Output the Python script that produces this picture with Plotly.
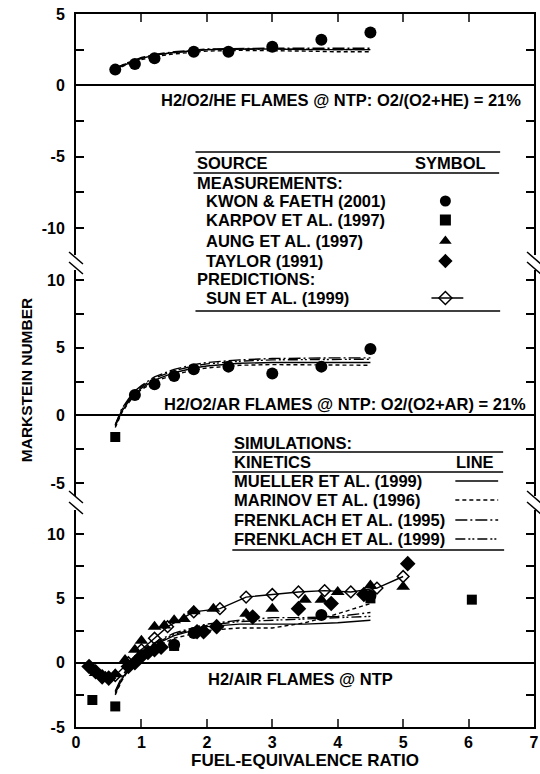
import plotly.graph_objects as go

# ---------------- DATA ----------------
# Top panel: H2/O2/He flames
he_kwon_x = [0.6, 0.9, 1.2, 1.8, 2.33, 3.0, 3.75, 4.5]
he_kwon_y = [1.1, 1.5, 1.9, 2.35, 2.35, 2.7, 3.2, 3.7]
he_sim_x = [0.6, 0.8, 1.0, 1.25, 1.5, 2.0, 2.5, 3.0, 3.5, 4.0, 4.5]
he_mueller = [1.15, 1.55, 1.9, 2.15, 2.3, 2.5, 2.55, 2.55, 2.5, 2.5, 2.5]
he_marinov = [1.1, 1.5, 1.8, 2.05, 2.2, 2.4, 2.45, 2.45, 2.4, 2.35, 2.35]
he_frenk95 = [1.2, 1.6, 1.95, 2.2, 2.35, 2.55, 2.6, 2.6, 2.6, 2.6, 2.6]
he_frenk99 = [1.2, 1.6, 1.9, 2.15, 2.3, 2.5, 2.55, 2.55, 2.55, 2.5, 2.5]

# Middle panel: H2/O2/Ar flames
ar_kwon_x = [0.9, 1.2, 1.5, 1.8, 2.33, 3.0, 3.75, 4.5]
ar_kwon_y = [1.5, 2.3, 2.9, 3.4, 3.6, 3.1, 3.6, 4.9]
ar_karpov_x = [0.6]
ar_karpov_y = [-1.6]
ar_sim_x = [0.6, 0.7, 0.8, 0.9, 1.0, 1.2, 1.5, 1.8, 2.0, 2.5, 3.0, 3.5, 4.0, 4.5]
ar_mueller = [-0.8, 0.3, 1.0, 1.6, 2.0, 2.6, 3.15, 3.5, 3.65, 3.85, 3.9, 3.9, 3.9, 3.9]
ar_marinov = [-0.9, 0.2, 0.9, 1.5, 1.9, 2.5, 3.0, 3.35, 3.5, 3.7, 3.75, 3.75, 3.75, 3.7]
ar_frenk95 = [-0.7, 0.5, 1.2, 1.8, 2.2, 2.85, 3.4, 3.75, 3.9, 4.1, 4.2, 4.25, 4.25, 4.25]
ar_frenk99 = [-0.7, 0.4, 1.1, 1.7, 2.1, 2.75, 3.3, 3.65, 3.8, 4.0, 4.1, 4.1, 4.1, 4.15]

# Bottom panel: H2/air flames
air_kwon_x = [1.5, 1.8, 3.75, 4.5]
air_kwon_y = [1.4, 2.3, 3.7, 5.2]
air_karpov_x = [0.25, 0.6, 1.5, 4.5, 6.05]
air_karpov_y = [-2.9, -3.4, 1.3, 5.0, 4.9]
air_aung_x = [0.3, 0.45, 0.6, 0.75, 0.9, 1.0, 1.2, 1.35, 1.5, 1.65, 1.8, 2.1, 2.6, 3.0, 3.5, 3.75, 4.0, 4.5, 5.0]
air_aung_y = [-0.8, -1.1, -0.9, 0.2, 1.0, 1.7, 2.8, 2.9, 3.3, 3.4, 4.0, 4.2, 3.8, 4.2, 4.9, 4.9, 5.5, 6.0, 5.9]
air_taylor_x = [0.2, 0.3, 0.4, 0.5, 0.8, 0.9, 1.0, 1.1, 1.2, 1.3, 1.85, 1.95, 2.15, 2.7, 3.4, 3.9, 4.4, 5.07]
air_taylor_y = [-0.3, -0.7, -1.1, -1.2, -0.3, 0.0, 0.5, 0.8, 1.0, 1.2, 2.4, 2.4, 2.8, 3.55, 4.2, 4.6, 5.3, 7.7]
air_sun_x = [0.6, 0.8, 1.0, 1.2, 1.4, 1.8, 2.2, 2.6, 3.0, 3.4, 3.8, 4.2, 4.6, 5.0]
air_sun_y = [-1.0, 0.0, 1.0, 1.9, 2.8, 3.95, 4.2, 5.1, 5.3, 5.5, 5.6, 5.5, 5.8, 6.7]
air_sim_x = [0.6, 0.7, 0.8, 0.9, 1.0, 1.25, 1.5, 2.0, 2.5, 3.0, 3.5, 4.0, 4.5]
air_mueller = [-2.4, -1.3, -0.5, 0.1, 0.6, 1.5, 2.1, 2.8, 3.0, 3.0, 3.0, 3.1, 3.3]
air_marinov = [-2.5, -1.4, -0.6, 0.0, 0.5, 1.3, 1.9, 2.5, 2.7, 2.7, 3.1, 3.8, 4.6]
air_frenk95 = [-2.2, -1.1, -0.3, 0.3, 0.8, 1.7, 2.3, 3.0, 3.3, 3.5, 3.5, 3.6, 3.9]
air_frenk99 = [-2.3, -1.2, -0.4, 0.2, 0.7, 1.6, 2.2, 2.9, 3.2, 3.3, 3.4, 3.5, 3.6]

sim_names = ["MUELLER ET AL. (1999)", "MARINOV ET AL. (1996)",
             "FRENKLACH ET AL. (1995)", "FRENKLACH ET AL. (1999)"]
meas_names = ["KWON & FAETH (2001)", "KARPOV ET AL. (1997)",
              "AUNG ET AL. (1997)", "TAYLOR (1991)"]
pred_names = ["SUN ET AL. (1999)"]
panel_titles = ["H2/O2/HE FLAMES @ NTP: O2/(O2+HE) = 21%",
                "H2/O2/AR FLAMES @ NTP: O2/(O2+AR) = 21%",
                "H2/AIR FLAMES @ NTP"]

# ---------------- STYLE / LAYOUT ----------------
W, H = 540, 774
L, R, T, B = 76, 536, 14, 727          # plot area in pixels
FONT = "Liberation Sans, Arial, sans-serif"
dashes = ["solid", "4px,3px", "12px,3px,2px,3px", "10px,3px,2px,2px,2px,3px"]
TXT = 16.5
LW = 1.4


def px(x):
    return (x - L) / (R - L)


def py(y):
    return (B - y) / (B - T)


fig = go.Figure()

def add_sims(xs, ys_list, xa, ya):
    for ys, d in zip(ys_list, dashes):
        fig.add_trace(go.Scatter(x=xs, y=ys, mode="lines", xaxis=xa, yaxis=ya,
                                 line=dict(color="black", width=LW, dash=d),
                                 showlegend=False, hoverinfo="skip"))

def add_pts(xs, ys, sym, xa, ya, size=11):
    fig.add_trace(go.Scatter(x=xs, y=ys, mode="markers", xaxis=xa, yaxis=ya,
                             marker=dict(symbol=sym, size=size, color="black",
                                         line=dict(width=0)),
                             showlegend=False, hoverinfo="skip"))

# top
add_sims(he_sim_x, [he_mueller, he_marinov, he_frenk95, he_frenk99], "x", "y")
add_pts(he_kwon_x, he_kwon_y, "circle", "x", "y", 12)
# middle
add_sims(ar_sim_x, [ar_mueller, ar_marinov, ar_frenk95, ar_frenk99], "x2", "y2")
add_pts(ar_kwon_x, ar_kwon_y, "circle", "x2", "y2", 12)
add_pts(ar_karpov_x, ar_karpov_y, "square", "x2", "y2", 10)
# bottom
add_sims(air_sim_x, [air_mueller, air_marinov, air_frenk95, air_frenk99], "x3", "y3")
fig.add_trace(go.Scatter(x=air_sun_x, y=air_sun_y, mode="lines+markers",
                         xaxis="x3", yaxis="y3",
                         line=dict(color="black", width=LW),
                         marker=dict(symbol="diamond-open", size=9, color="black",
                                     line=dict(width=1.5)),
                         showlegend=False, hoverinfo="skip"))
add_pts(air_taylor_x, air_taylor_y, "diamond", "x3", "y3", 12)
add_pts(air_aung_x, air_aung_y, "triangle-up", "x3", "y3", 12)
add_pts(air_kwon_x, air_kwon_y, "circle", "x3", "y3", 12)
add_pts(air_karpov_x, air_karpov_y, "square", "x3", "y3", 10)

# ---- key symbols on a pixel-space axis pair covering the plot area ----
key_x = 447
key_sym = ["circle", "square", "triangle-up", "diamond"]
key_y = [201, 220, 241, 261]
for s, yk in zip(key_sym, key_y):
    fig.add_trace(go.Scatter(x=[key_x], y=[yk], mode="markers", xaxis="x4", yaxis="y4",
                             marker=dict(symbol=s, size=11, color="black"),
                             showlegend=False, hoverinfo="skip"))
fig.add_trace(go.Scatter(x=[433, 447, 465], y=[298, 298, 298], mode="lines",
                         xaxis="x4", yaxis="y4", line=dict(color="black", width=LW),
                         showlegend=False, hoverinfo="skip"))
fig.add_trace(go.Scatter(x=[key_x], y=[298], mode="markers", xaxis="x4", yaxis="y4",
                         marker=dict(symbol="diamond-open", size=10, color="black",
                                     line=dict(width=1.5)),
                         showlegend=False, hoverinfo="skip"))
sim_key_y = [481, 500, 520, 539]
for d, yk in zip(dashes, sim_key_y):
    fig.add_trace(go.Scatter(x=[457, 500], y=[yk, yk], mode="lines", xaxis="x4", yaxis="y4",
                             line=dict(color="black", width=LW, dash=d),
                             showlegend=False, hoverinfo="skip"))

# ---- axes ----
yax = dict(showline=True, linewidth=2, linecolor="black", mirror="ticks",
           ticks="inside", ticklen=8, tickwidth=1.5, tickcolor="black",
           showgrid=False, zeroline=True, zerolinewidth=2, zerolinecolor="black",
           ticklabelstandoff=6,
           tickfont=dict(family=FONT, size=16, color="black"))

def ticks(lo, hi):
    vals, txt_ = [], []
    v = lo
    while v <= hi + 1e-9:
        vals.append(v)
        txt_.append("<b>%d</b>" % v if abs(v % 5) < 1e-9 else "")
        v += 2.5
    return vals, txt_

tv1, tt1 = ticks(-10, 5)
tv2, tt2 = ticks(-5, 10)
tv3, tt3 = ticks(-5, 10)

xrange_ = [0, 7]
fig.update_layout(
    width=W, height=H,
    margin=dict(l=L, r=W - R, t=T, b=H - B),
    paper_bgcolor="white", plot_bgcolor="rgba(0,0,0,0)",
    showlegend=False,
    xaxis=dict(range=xrange_, domain=[0, 1], anchor="y", side="top",
               showline=True, linewidth=2, linecolor="black",
               ticks="inside", ticklen=8, tickwidth=1.5, tickvals=[1, 2, 3, 4, 5, 6],
               showticklabels=False, showgrid=False, zeroline=False),
    xaxis2=dict(range=xrange_, domain=[0, 1], anchor="y2", visible=False),
    xaxis3=dict(range=xrange_, domain=[0, 1], anchor="y3", side="bottom",
                showline=True, linewidth=2, linecolor="black",
                ticks="inside", ticklen=8, tickwidth=1.5,
                tickvals=[0, 1, 2, 3, 4, 5, 6, 7],
                ticktext=["<b>%d</b>" % v for v in range(8)],
                tickfont=dict(family=FONT, size=16, color="black"),
                showgrid=False, zeroline=False, automargin=False,
                title=dict(text="<b>FUEL-EQUIVALENCE RATIO</b>",
                           font=dict(family=FONT, size=17, color="black"), standoff=0)),
    xaxis4=dict(range=[L, R], domain=[0, 1], anchor="y4", visible=False),
    yaxis=dict(yax, range=[-11.9, 5], domain=[py(255), 1], anchor="x",
               tickvals=tv1, ticktext=tt1),
    yaxis2=dict(yax, range=[-5.96, 10.74], domain=[py(496), py(270)], anchor="x2",
                tickvals=tv2, ticktext=tt2),
    yaxis3=dict(yax, range=[-5, 11.87], domain=[0, py(510)], anchor="x3",
                tickvals=tv3, ticktext=tt3),
    yaxis4=dict(range=[B, T], domain=[0, 1], anchor="x4", visible=False),
)

# ---- break marks ----
shapes = []
for xb in (L, R):
    for yb in (258, 268, 497, 508):
        shapes.append(dict(type="line", xref="paper", yref="paper",
                           x0=px(xb - 7), y0=py(yb - 6), x1=px(xb + 7), y1=py(yb + 6),
                           line=dict(color="black", width=1.5)))
# legend rules
for y0, xa, xb in [(152, 196, 502), (173, 194, 501), (311, 196, 502),
                   (452, 233, 505), (472, 233, 505), (550, 233, 506)]:
    shapes.append(dict(type="line", xref="paper", yref="paper",
                       x0=px(xa), x1=px(xb), y0=py(y0), y1=py(y0),
                       line=dict(color="black", width=1.5)))
fig.update_layout(shapes=shapes)

# ---- text ----
ann = []
def txt(s, x, y, anchor="left", size=TXT, angle=0):
    ann.append(dict(text="<b>%s</b>" % s, x=px(x), y=py(y), xref="paper", yref="paper",
                    xanchor=anchor, yanchor="middle", showarrow=False, textangle=angle,
                    font=dict(family=FONT, size=size, color="black")))

txt(panel_titles[0], 525, 100, "right")
txt(panel_titles[1], 530, 404, "right")
txt(panel_titles[2], 207, 679, "left")
txt("SOURCE", 196, 163)
txt("SYMBOL", 490, 163, "right")
txt("MEASUREMENTS:", 196, 183)
for nm, yk in zip(meas_names, key_y):
    txt(nm, 205, yk)
txt("PREDICTIONS:", 196, 279)
txt(pred_names[0], 205, 298)
txt("SIMULATIONS:", 233, 443)
txt("KINETICS", 233, 462)
txt("LINE", 498, 462, "right")
for nm, yk in zip(sim_names, sim_key_y):
    txt(nm, 233, yk)
txt("MARKSTEIN NUMBER", 27, 380, "center", 15.5, -90)
fig.update_layout(annotations=ann)

fig.write_html("out.html", config={"displayModeBar": False},
               post_script="document.body.style.margin='0';document.body.style.overflow='hidden';")
